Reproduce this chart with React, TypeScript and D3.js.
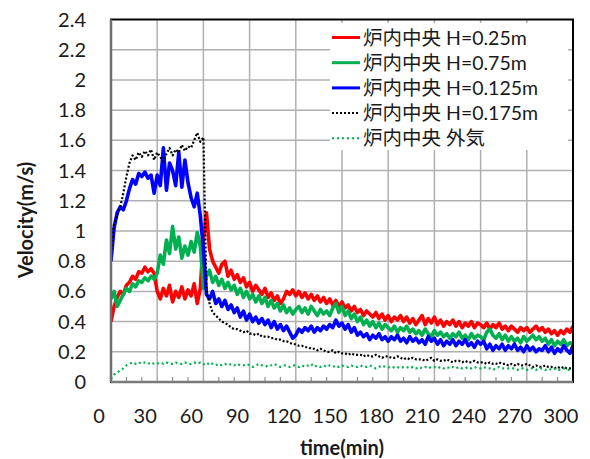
import React, { useEffect, useRef } from "react";
import * as d3 from "d3";

// time axis: one reading every 2 minutes, 0..300
const times = d3.range(0, 301, 2);
const xTicks = [0, 30, 60, 90, 120, 150, 180, 210, 240, 270, 300];
const yTicks = [0, 0.2, 0.4, 0.6, 0.8, 1, 1.2, 1.4, 1.6, 1.8, 2, 2.2, 2.4];

const seriesNames = [
  "炉内中央 H=0.25m",
  "炉内中央 H=0.75m",
  "炉内中央 H=0.125m",
  "炉内中央 H=0.175m",
  "炉内中央 外気",
];

const h025 = [
  0.40, 0.50, 0.56, 0.60, 0.58, 0.64, 0.66, 0.70, 0.68, 0.73,
  0.72, 0.76, 0.73, 0.75, 0.72, 0.60, 0.55, 0.62, 0.57, 0.64,
  0.53, 0.60, 0.56, 0.63, 0.55, 0.61, 0.57, 0.65, 0.52, 0.62,
  0.95, 1.12, 0.88, 0.80, 0.76, 0.72, 0.78, 0.80, 0.70, 0.74,
  0.68, 0.71, 0.66, 0.69, 0.63, 0.66, 0.60, 0.64, 0.61, 0.58,
  0.62, 0.56, 0.59, 0.54, 0.57, 0.52, 0.55, 0.60, 0.58, 0.61,
  0.57, 0.60, 0.56, 0.59, 0.55, 0.58, 0.54, 0.57, 0.53, 0.56,
  0.52, 0.55, 0.51, 0.54, 0.50, 0.53, 0.49, 0.51, 0.47, 0.50,
  0.46, 0.48, 0.44, 0.47, 0.45, 0.43, 0.46, 0.42, 0.45, 0.41,
  0.44, 0.40, 0.43, 0.41, 0.44, 0.40, 0.43, 0.39, 0.42, 0.38,
  0.41, 0.44, 0.38, 0.42, 0.39, 0.43, 0.38, 0.41, 0.37, 0.40,
  0.38, 0.41, 0.37, 0.40, 0.36, 0.39, 0.37, 0.40, 0.36, 0.39,
  0.38, 0.36, 0.39, 0.35, 0.38, 0.36, 0.39, 0.35, 0.37, 0.34,
  0.37, 0.35, 0.33, 0.36, 0.34, 0.36, 0.33, 0.35, 0.37, 0.34,
  0.36, 0.33, 0.35, 0.32, 0.34, 0.31, 0.34, 0.32, 0.35, 0.33,
  0.37,
];

const h075 = [
  0.55, 0.60, 0.50, 0.54, 0.58, 0.62, 0.60, 0.65, 0.63, 0.67,
  0.66, 0.69, 0.67, 0.70, 0.68, 0.72, 0.84, 0.78, 0.94, 0.85,
  1.03, 0.88, 0.96, 0.82, 0.90, 0.84, 0.93, 0.86, 0.99, 0.90,
  0.62, 0.70, 0.74, 0.66, 0.70, 0.64, 0.68, 0.62, 0.66, 0.61,
  0.64, 0.58, 0.62, 0.56, 0.60, 0.55, 0.58, 0.53, 0.57, 0.52,
  0.56, 0.50, 0.54, 0.49, 0.52, 0.47, 0.51, 0.46, 0.49, 0.45,
  0.48, 0.50, 0.46, 0.49, 0.45, 0.50, 0.47, 0.44, 0.48, 0.45,
  0.47, 0.44, 0.49, 0.52, 0.46, 0.50, 0.44, 0.47, 0.42, 0.45,
  0.40, 0.43, 0.38, 0.41, 0.37, 0.40, 0.36, 0.39, 0.35, 0.38,
  0.36, 0.34, 0.37, 0.33, 0.36, 0.34, 0.37, 0.33, 0.35, 0.32,
  0.34, 0.31, 0.35, 0.32, 0.30, 0.34, 0.31, 0.33, 0.30, 0.32,
  0.29, 0.32, 0.30, 0.33, 0.29, 0.31, 0.28, 0.32, 0.29, 0.31,
  0.30, 0.28, 0.33, 0.35, 0.31, 0.29, 0.32, 0.28, 0.31, 0.27,
  0.30, 0.27, 0.29, 0.26, 0.30, 0.27, 0.29, 0.31, 0.28, 0.30,
  0.27, 0.29, 0.25, 0.28, 0.24, 0.27, 0.25, 0.28, 0.24, 0.26,
  0.25,
];

const h0125 = [
  0.80, 1.02, 1.12, 1.16, 1.14, 1.20, 1.28, 1.34, 1.31, 1.38,
  1.36, 1.39, 1.35, 1.37, 1.25, 1.37, 1.30, 1.55, 1.27, 1.45,
  1.40, 1.30, 1.52, 1.29, 1.47, 1.32, 1.22, 1.16, 1.25, 1.10,
  0.88, 0.58, 0.55, 0.60, 0.52, 0.55, 0.50, 0.54, 0.48, 0.51,
  0.46, 0.49, 0.43, 0.47, 0.41, 0.45, 0.40, 0.43, 0.39, 0.42,
  0.38, 0.41, 0.36, 0.40, 0.35, 0.38, 0.34, 0.37, 0.33, 0.29,
  0.31, 0.35, 0.33, 0.36, 0.34, 0.37, 0.33, 0.36, 0.34, 0.37,
  0.35, 0.38, 0.36, 0.41, 0.37, 0.39, 0.35, 0.38, 0.33, 0.36,
  0.31, 0.33, 0.30, 0.32, 0.28, 0.31, 0.29, 0.32, 0.28, 0.30,
  0.27, 0.30, 0.28, 0.31, 0.27, 0.29, 0.26, 0.30, 0.27, 0.29,
  0.26, 0.28, 0.25, 0.30, 0.27, 0.29, 0.25, 0.28, 0.24, 0.27,
  0.25, 0.28, 0.24, 0.27, 0.25, 0.28, 0.24, 0.26, 0.23, 0.27,
  0.25, 0.27, 0.22, 0.25, 0.21, 0.24, 0.22, 0.25, 0.21, 0.24,
  0.22, 0.25, 0.21, 0.23, 0.20, 0.24, 0.21, 0.23, 0.20, 0.22,
  0.21, 0.24, 0.20, 0.23, 0.19, 0.22, 0.20, 0.24, 0.21, 0.19,
  0.24,
];

const h0175 = [
  0.85, 1.05, 1.10, 1.16, 1.25, 1.36, 1.45, 1.50, 1.47, 1.52,
  1.49, 1.53, 1.50, 1.54, 1.47, 1.52, 1.49, 1.46, 1.51, 1.55,
  1.50, 1.54, 1.52, 1.57, 1.53, 1.56, 1.55, 1.60, 1.65, 1.59,
  1.62, 0.60, 0.52, 0.46, 0.44, 0.42, 0.40, 0.39, 0.38, 0.36,
  0.35, 0.35, 0.34, 0.33, 0.34, 0.32, 0.32, 0.31, 0.32, 0.30,
  0.30, 0.30, 0.29, 0.29, 0.28, 0.28, 0.27, 0.27, 0.26, 0.25,
  0.25, 0.24, 0.24, 0.23, 0.23, 0.22, 0.22, 0.21, 0.22, 0.21,
  0.20, 0.20, 0.21, 0.19, 0.20, 0.19, 0.19, 0.18, 0.19, 0.18,
  0.18, 0.18, 0.17, 0.18, 0.17, 0.17, 0.18, 0.17, 0.16, 0.17,
  0.17, 0.16, 0.16, 0.17, 0.16, 0.15, 0.16, 0.15, 0.16, 0.15,
  0.15, 0.15, 0.14, 0.15, 0.16, 0.14, 0.15, 0.14, 0.14, 0.15,
  0.14, 0.13, 0.14, 0.14, 0.13, 0.14, 0.13, 0.13, 0.14, 0.13,
  0.13, 0.13, 0.12, 0.13, 0.12, 0.12, 0.13, 0.12, 0.12, 0.11,
  0.12, 0.11, 0.12, 0.11, 0.11, 0.12, 0.11, 0.10, 0.11, 0.10,
  0.10, 0.11, 0.10, 0.10, 0.09, 0.10, 0.09, 0.10, 0.09, 0.09,
  0.09,
];

const outside = [
  0.02, 0.05, 0.06, 0.08, 0.09, 0.11, 0.12, 0.13, 0.12, 0.13,
  0.12, 0.13, 0.12, 0.13, 0.12, 0.12, 0.13, 0.12, 0.13, 0.12,
  0.12, 0.13, 0.12, 0.12, 0.13, 0.12, 0.12, 0.13, 0.12, 0.13,
  0.12, 0.11, 0.13, 0.12, 0.11, 0.12, 0.11, 0.12, 0.11, 0.12,
  0.11, 0.12, 0.11, 0.11, 0.12, 0.11, 0.10, 0.11, 0.12, 0.11,
  0.11, 0.10, 0.11, 0.12, 0.11, 0.10, 0.11, 0.11, 0.10, 0.11,
  0.11, 0.10, 0.11, 0.10, 0.11, 0.12, 0.10, 0.11, 0.10, 0.11,
  0.10, 0.11, 0.10, 0.11, 0.10, 0.11, 0.10, 0.10, 0.11, 0.10,
  0.10, 0.11, 0.10, 0.10, 0.11, 0.10, 0.09, 0.10, 0.11, 0.10,
  0.10, 0.09, 0.10, 0.10, 0.09, 0.10, 0.10, 0.09, 0.10, 0.09,
  0.10, 0.09, 0.10, 0.09, 0.10, 0.10, 0.09, 0.10, 0.09, 0.10,
  0.09, 0.10, 0.09, 0.10, 0.09, 0.09, 0.10, 0.09, 0.10, 0.09,
  0.09, 0.10, 0.09, 0.09, 0.08, 0.09, 0.10, 0.09, 0.09, 0.09,
  0.09, 0.09, 0.08, 0.09, 0.09, 0.08, 0.09, 0.09, 0.08, 0.09,
  0.09, 0.08, 0.09, 0.08, 0.09, 0.08, 0.08, 0.09, 0.08, 0.08,
  0.08,
];

const seriesValues = [h025, h075, h0125, h0175, outside];
const seriesColors = ["#ff0000", "#00b050", "#0000ff", "#000000", "#00b050"];
const seriesDash = [null, null, null, "2,2", "2,3"];

const font = "Lato, 'Noto Sans CJK JP', sans-serif";

const Chart = () => {
  const ref = useRef<SVGSVGElement>(null);

  useEffect(() => {
    const svg = d3.select(ref.current);
    svg.selectAll("*").remove();

    const width = 590, height = 459;
    const margin = { top: 19.5, right: 17, bottom: 77, left: 111 };

    const x = d3.scaleLinear().domain([0, 300]).range([margin.left, width - margin.right]);
    const y = d3.scaleLinear().domain([0, 2.4]).range([height - margin.bottom, margin.top]);

    svg.append("rect").attr("width", width).attr("height", height).attr("fill", "#fff");

    // grid
    svg.append("g")
      .selectAll("line")
      .data(xTicks.slice(1, -1))
      .join("line")
      .attr("x1", d => x(d)).attr("x2", d => x(d))
      .attr("y1", y(2.4)).attr("y2", y(0))
      .attr("stroke", "#b0b0b0").attr("stroke-width", 1.5);
    svg.append("g")
      .selectAll("line")
      .data(yTicks.slice(1, -1))
      .join("line")
      .attr("x1", x(0)).attr("x2", x(300))
      .attr("y1", d => y(d)).attr("y2", d => y(d))
      .attr("stroke", "#b0b0b0").attr("stroke-width", 1.5);

    // minor ticks on x axis every 10 min
    svg.append("g")
      .selectAll("line")
      .data(d3.range(10, 300, 10).filter(d => d % 30 !== 0))
      .join("line")
      .attr("x1", d => x(d)).attr("x2", d => x(d))
      .attr("y1", y(0)).attr("y2", y(0) - 5)
      .attr("stroke", "#909090").attr("stroke-width", 1.2);

    svg.append("clipPath").attr("id", "plot-clip")
      .append("rect")
      .attr("x", x(0)).attr("y", y(2.4))
      .attr("width", x(300) - x(0)).attr("height", y(0) - y(2.4));

    const line = (vals: number[]) =>
      d3.line<number>()
        .x((d, i) => x(times[i]))
        .y(d => y(d))(vals);

    const plot = svg.append("g").attr("clip-path", "url(#plot-clip)");
    seriesValues.forEach((vals, i) => {
      plot.append("path")
        .attr("d", line(vals))
        .attr("fill", "none")
        .attr("stroke", seriesColors[i])
        .attr("stroke-width", seriesDash[i] ? 2.2 : 3.6)
        .attr("stroke-dasharray", seriesDash[i])
        .attr("stroke-linejoin", "round");
    });

    // plot border
    svg.append("rect")
      .attr("x", x(0)).attr("y", y(2.4))
      .attr("width", x(300) - x(0)).attr("height", y(0) - y(2.4))
      .attr("fill", "none").attr("stroke", "#000").attr("stroke-width", 2);
    svg.append("line")
      .attr("x1", x(0)).attr("x2", x(0)).attr("y1", y(2.4)).attr("y2", y(0))
      .attr("stroke", "#6e6e6e").attr("stroke-width", 2.5);
    svg.append("line")
      .attr("x1", x(0)).attr("x2", x(300)).attr("y1", y(0)).attr("y2", y(0))
      .attr("stroke", "#7a7a7a").attr("stroke-width", 2.5);

    // tick labels
    svg.append("g")
      .selectAll("text")
      .data(yTicks)
      .join("text")
      .attr("x", 86).attr("y", d => y(d)).attr("dy", "0.35em")
      .attr("text-anchor", "end")
      .style("font", `20px ${font}`).attr("fill", "#1a1a1a")
      .text(d => d3.format("")(+d.toFixed(1)));
    svg.append("g")
      .selectAll("text")
      .data(xTicks)
      .join("text")
      .attr("x", d => x(d) - 12).attr("y", 423)
      .attr("text-anchor", "middle")
      .style("font", `20px ${font}`).attr("fill", "#1a1a1a")
      .text(d => d);

    // axis titles
    svg.append("text")
      .attr("transform", `translate(33,${220}) rotate(-90)`)
      .attr("text-anchor", "middle")
      .style("font", `bold 20px ${font}`).attr("fill", "#1a1a1a")
      .text("Velocity(m/s)");
    svg.append("text")
      .attr("x", (x(0) + x(300)) / 2).attr("y", 455)
      .attr("text-anchor", "middle")
      .style("font", `bold 20px ${font}`).attr("fill", "#1a1a1a")
      .text("time(min)");

    // legend
    const lg = svg.append("g");
    lg.append("rect").attr("x", 330).attr("y", 23).attr("width", 238).attr("height", 127).attr("fill", "#fff");
    seriesNames.forEach((name, i) => {
      const cy = 37.5 + i * 25.2;
      lg.append("line")
        .attr("x1", 332).attr("x2", 360).attr("y1", cy).attr("y2", cy)
        .attr("stroke", seriesColors[i])
        .attr("stroke-width", seriesDash[i] ? 2 : 3)
        .attr("stroke-dasharray", seriesDash[i]);
      lg.append("text")
        .attr("x", 363).attr("y", cy).attr("dy", "0.36em")
        .style("font", `19.5px ${font}`).attr("fill", "#1a1a1a")
        .text(name);
    });
  }, []);

  return <svg ref={ref} width={590} height={459} style={{ display: "block" }} />;
};

export default function App() {
  return (
    <div style={{ position: "absolute", left: 0, top: 0 }}>
      <Chart />
    </div>
  );
}
